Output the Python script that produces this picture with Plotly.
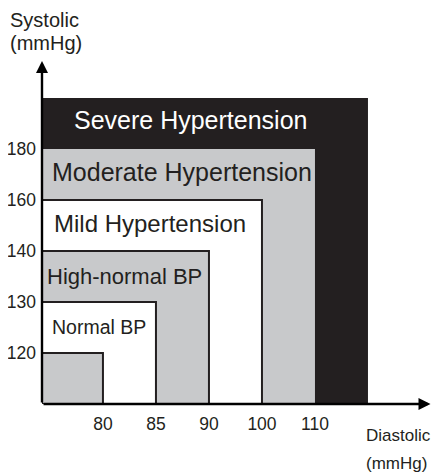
import plotly.graph_objects as go

# ---- data ----
diastolic_ticks = [80, 85, 90, 100, 110]          # mmHg, x axis tick labels
systolic_ticks = [120, 130, 140, 160, 180]         # mmHg, y axis tick labels
categories = ["Optimal", "Normal BP", "High-normal BP",
              "Mild Hypertension", "Moderate Hypertension", "Severe Hypertension"]
# upper diastolic / systolic bound of each category (Severe has no upper bound)
cat_diastolic_upper = [80, 85, 90, 100, 110, None]
cat_systolic_upper = [120, 130, 140, 160, 180, None]

# ---- styles ----
GRAY = "#c8c9cb"
BLACK = "#231f20"
WHITE = "#ffffff"
fills = [GRAY, WHITE, GRAY, WHITE, GRAY, BLACK]
borders = [2, 2, 2, 2, 0, 0]
label_color = [None, BLACK, BLACK, BLACK, BLACK, WHITE]
label_size = [0, 19.5, 22, 24, 25, 25]
label_xshift = [0, 8, 3, 10, 8, 30]
label_yshift = [0, 1, 0, 2, 3, 3]
FONT = "Liberation Sans, Arial, sans-serif"

# schematic (equal-step) scale: position of each threshold = its rank
def xpos(v):
    return diastolic_ticks.index(v) + 1 if v is not None else len(diastolic_ticks) + 1

def ypos(v):
    return systolic_ticks.index(v) + 1 if v is not None else len(systolic_ticks) + 1

X_LEFT, X_RIGHT = -0.15, 7.34
Y_BOT, Y_TOP = 0.0, 6.843

fig = go.Figure()
fig.add_trace(go.Scatter(x=[X_LEFT, X_RIGHT], y=[Y_BOT, Y_TOP], mode="markers",
                         marker=dict(opacity=0), hoverinfo="skip", showlegend=False))

# nested rectangles, largest first
for i in reversed(range(len(categories))):
    x1 = xpos(cat_diastolic_upper[i])
    y1 = ypos(cat_systolic_upper[i])
    fig.add_shape(type="rect", xref="x", yref="y", x0=X_LEFT, x1=x1, y0=Y_BOT, y1=y1,
                  fillcolor=fills[i],
                  line=dict(color=BLACK, width=borders[i]) if borders[i] else dict(width=0),
                  layer="above")

# category labels
for i, name in enumerate(categories):
    if label_size[i] == 0:
        continue
    lower = ypos(cat_systolic_upper[i - 1])
    upper = ypos(cat_systolic_upper[i])
    fig.add_annotation(x=X_LEFT, y=(lower + upper) / 2, xref="x", yref="y",
                       xanchor="left", yanchor="middle", xshift=label_xshift[i],
                       yshift=label_yshift[i],
                       text=name, showarrow=False,
                       font=dict(family=FONT, size=label_size[i], color=label_color[i]))

# axis arrows
fig.add_annotation(x=X_LEFT, y=6.725, ax=X_LEFT, ay=Y_BOT, xref="x", yref="y",
                   axref="x", ayref="y", text="", showarrow=True, arrowhead=2,
                   arrowsize=1.0, arrowwidth=2.4, arrowcolor="#000000", standoff=0)
fig.add_annotation(x=7.18, y=Y_BOT, ax=X_LEFT, ay=Y_BOT, xref="x", yref="y",
                   axref="x", ayref="y", text="", showarrow=True, arrowhead=2,
                   arrowsize=1.0, arrowwidth=2.4, arrowcolor="#000000", standoff=0)

# axis titles
fig.add_annotation(x=-0.086, y=1.10, xref="paper", yref="paper", xanchor="left",
                   yanchor="middle", align="left", text="Systolic", showarrow=False,
                   font=dict(family=FONT, size=20, color=BLACK))
fig.add_annotation(x=-0.086, y=1.035, xref="paper", yref="paper", xanchor="left",
                   yanchor="middle", align="left", text="(mmHg)", showarrow=False,
                   font=dict(family=FONT, size=20, color=BLACK))
fig.add_annotation(x=0.812, y=-0.09, xref="paper", yref="paper", xanchor="left",
                   yanchor="middle", text="Diastolic", showarrow=False,
                   font=dict(family=FONT, size=17, color=BLACK))
fig.add_annotation(x=0.812, y=-0.17, xref="paper", yref="paper", xanchor="left",
                   yanchor="middle", text="(mmHg)", showarrow=False,
                   font=dict(family=FONT, size=17, color=BLACK))

# the page body adds an 8px margin, so the figure is 8px smaller than the window
fig.update_layout(
    width=431, height=464,
    margin=dict(l=34, r=0, t=47, b=68, autoexpand=False),
    paper_bgcolor="white", plot_bgcolor="white",
    showlegend=False,
    xaxis=dict(range=[X_LEFT, X_RIGHT], showgrid=False, zeroline=False, showline=False,
               automargin=False,
               tickmode="array", tickvals=[xpos(v) for v in diastolic_ticks],
               ticktext=[str(v) for v in diastolic_ticks], ticks="",
               ticklabelstandoff=7,
               tickfont=dict(family=FONT, size=17.5, color=BLACK), fixedrange=True),
    yaxis=dict(range=[Y_BOT, Y_TOP], showgrid=False, zeroline=False, showline=False,
               automargin=False,
               tickmode="array", tickvals=[ypos(v) for v in systolic_ticks],
               ticktext=[str(v) for v in systolic_ticks], ticks="",
               ticklabelstandoff=5,
               tickfont=dict(family=FONT, size=17.5, color=BLACK), fixedrange=True),
)

fig.write_html("out.html")
